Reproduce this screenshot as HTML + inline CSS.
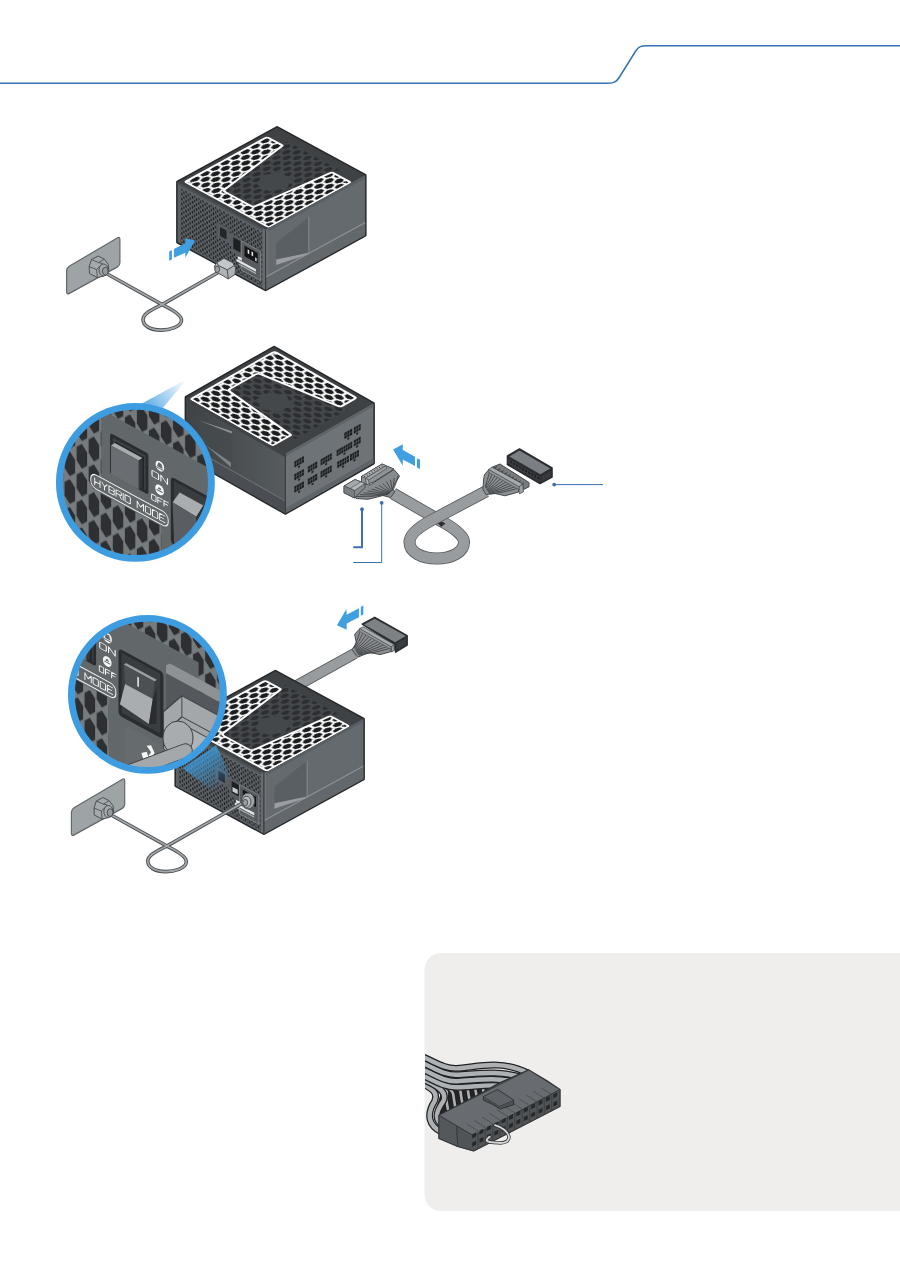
<!DOCTYPE html><html><head><meta charset="utf-8"><title>PSU installation</title><style>html,body{margin:0;padding:0;background:#fff}body{width:900px;height:1280px;position:relative;overflow:hidden;font-family:"Liberation Sans",sans-serif}</style></head><body><svg width="900" height="1280" viewBox="0 0 900 1280" style="position:absolute;left:0;top:0"><defs><pattern id="hexB" patternUnits="userSpaceOnUse" width="12.0" height="11.4" x="7" y="1.5"><path d="M-3.00 0.00 L-1.50 -4.30 L1.50 -4.30 L3.00 0.00 L1.50 4.30 L-1.50 4.30ZM9.00 0.00 L10.50 -4.30 L13.50 -4.30 L15.00 0.00 L13.50 4.30 L10.50 4.30ZM-3.00 11.40 L-1.50 7.10 L1.50 7.10 L3.00 11.40 L1.50 15.70 L-1.50 15.70ZM9.00 11.40 L10.50 7.10 L13.50 7.10 L15.00 11.40 L13.50 15.70 L10.50 15.70ZM3.00 5.70 L4.50 1.40 L7.50 1.40 L9.00 5.70 L7.50 10.00 L4.50 10.00Z" fill="#1b1d1f"/></pattern><pattern id="hexD" patternUnits="userSpaceOnUse" width="12.0" height="11.4" x="7" y="1.5"><path d="M-2.70 0.00 L-1.35 -3.90 L1.35 -3.90 L2.70 0.00 L1.35 3.90 L-1.35 3.90ZM9.30 0.00 L10.65 -3.90 L13.35 -3.90 L14.70 0.00 L13.35 3.90 L10.65 3.90ZM-2.70 11.40 L-1.35 7.50 L1.35 7.50 L2.70 11.40 L1.35 15.30 L-1.35 15.30ZM9.30 11.40 L10.65 7.50 L13.35 7.50 L14.70 11.40 L13.35 15.30 L10.65 15.30ZM3.30 5.70 L4.65 1.80 L7.35 1.80 L8.70 5.70 L7.35 9.60 L4.65 9.60Z" fill="#2c2e31"/></pattern><pattern id="mesh" patternUnits="userSpaceOnUse" width="4.8" height="4.9"><rect width="4.8" height="4.9" fill="#63686c"/><path d="M0.00 -1.80 L0.82 -0.90 L0.82 0.90 L0.00 1.80 L-0.82 0.90 L-0.82 -0.90ZM4.80 -1.80 L5.62 -0.90 L5.62 0.90 L4.80 1.80 L3.98 0.90 L3.98 -0.90ZM0.00 3.10 L0.82 4.00 L0.82 5.80 L0.00 6.70 L-0.82 5.80 L-0.82 4.00ZM4.80 3.10 L5.62 4.00 L5.62 5.80 L4.80 6.70 L3.98 5.80 L3.98 4.00ZM2.40 0.65 L3.22 1.55 L3.22 3.35 L2.40 4.25 L1.58 3.35 L1.58 1.55Z" fill="#1b1d1f"/></pattern><linearGradient id="sideg" x1="0" y1="0" x2="1" y2="0"><stop offset="0" stop-color="#3f4346"/><stop offset="1" stop-color="#565b5f"/></linearGradient><clipPath id="boxclip"><rect x="425" y="953" width="475" height="259"/></clipPath><pattern id="bighex" patternUnits="userSpaceOnUse" width="27.4" height="27.8" x="-45.8" y="52.7"><rect width="27.4" height="27.8" fill="#767b7e"/><path d="M0.00 -12.30 L6.00 -6.60 L6.00 6.60 L0.00 12.30 L-6.00 6.60 L-6.00 -6.60ZM27.40 -12.30 L33.40 -6.60 L33.40 6.60 L27.40 12.30 L21.40 6.60 L21.40 -6.60ZM0.00 15.50 L6.00 21.20 L6.00 34.40 L0.00 40.10 L-6.00 34.40 L-6.00 21.20ZM27.40 15.50 L33.40 21.20 L33.40 34.40 L27.40 40.10 L21.40 34.40 L21.40 21.20ZM13.70 1.60 L19.70 7.30 L19.70 20.50 L13.70 26.20 L7.70 20.50 L7.70 7.30Z" fill="#2d2f32"/></pattern><linearGradient id="beam2" gradientUnits="userSpaceOnUse" x1="150" y1="405" x2="186" y2="380"><stop offset="0" stop-color="#3d9de0" stop-opacity=".75"/><stop offset="1" stop-color="#3d9de0" stop-opacity="0"/></linearGradient><clipPath id="c2"><circle cx="135.4" cy="482.4" r="74"/></clipPath><linearGradient id="beam3" gradientUnits="userSpaceOnUse" x1="202" y1="758" x2="222" y2="788"><stop offset="0" stop-color="#3d9de0" stop-opacity=".75"/><stop offset="1" stop-color="#3d9de0" stop-opacity="0"/></linearGradient><clipPath id="c3"><circle cx="147.4" cy="694.4" r="74"/></clipPath></defs><path d="M0 83.3 H607.5 C614.5 83.3 616.5 81.8 619.5 77 L636 50.5 C639 46.6 641 45.8 646.5 45.8 H900" fill="none" stroke="#3372b8" stroke-width="1.5"/>
<path d="M900 953 H441 a16.5 16.5 0 0 0 -16.5 16.5 V1194.5 a16.5 16.5 0 0 0 16.5 16.5 H900 Z" fill="#efeeed"/>
<path d="M288 690.5 L354.5 653.6" fill="none" stroke="#54585b" stroke-width="11.2" stroke-linejoin="round"/><path d="M288 690.5 L354.5 653.6" fill="none" stroke="#989c9f" stroke-width="9.6" stroke-linejoin="round"/>
<polygon points="177.6,182.1 277.1,127.6 365.1,175.3 365.1,235.3 265.6,289.8 177.6,242.1" fill="#26282a" stroke="#26282a" stroke-width="3" stroke-linejoin="round" /><g transform="matrix(0.8800 0.4770 0.8805 -0.4823 177.6 182.1)"><rect x="0" y="0" width="100" height="113" fill="#3e4245"/><path d="M22 98 L34.5 19.5 Q35 16.5 38 16.5 H66 Q69 16.5 69.5 19.5 L78 98 L80 104 H20Z" fill="#44484b"/><path d="M22 98 L34.5 19.5 Q35 16.5 38 16.5 H66 Q69 16.5 69.5 19.5 L78 98 L80 104 H20Z" fill="url(#hexD)"/><path d="M41 55 L48 42 H62 L69 55 L62 68 H48Z" fill="#44484b"/><path d="M6 4.5 H97 Q99 4.5 99 6.5 V95.5 Q99 97.5 97 97.5 H79.5 Q78 97.5 77.8 96 L69.5 19.5 Q69 16.5 66 16.5 H38 Q35 16.5 34.5 19.5 L22.2 96 Q22 97.5 20.5 97.5 H6 Q4 97.5 4 95.5 V6.5 Q4 4.5 6 4.5Z" fill="#fcfcfc"/><path d="M6 4.5 H97 Q99 4.5 99 6.5 V95.5 Q99 97.5 97 97.5 H79.5 Q78 97.5 77.8 96 L69.5 19.5 Q69 16.5 66 16.5 H38 Q35 16.5 34.5 19.5 L22.2 96 Q22 97.5 20.5 97.5 H6 Q4 97.5 4 95.5 V6.5 Q4 4.5 6 4.5Z" fill="url(#hexB)"/><path d="M6 4.5 H97 Q99 4.5 99 6.5 V95.5 Q99 97.5 97 97.5 H79.5 Q78 97.5 77.8 96 L69.5 19.5 Q69 16.5 66 16.5 H38 Q35 16.5 34.5 19.5 L22.2 96 Q22 97.5 20.5 97.5 H6 Q4 97.5 4 95.5 V6.5 Q4 4.5 6 4.5Z" fill="none" stroke="#fcfcfc" stroke-width="2.2"/><circle cx="7.5" cy="8" r="1" fill="#333"/><circle cx="95.5" cy="8" r="1" fill="#333"/><circle cx="7.5" cy="94" r="1" fill="#333"/><circle cx="95.5" cy="94" r="1" fill="#333"/></g><g transform="matrix(0.8800 0.4770 0.0000 1.0000 177.6 182.1)"><rect x="0" y="0" width="100" height="60" fill="#5b6064"/><rect x="3.2" y="4.5" width="93" height="54" fill="url(#mesh)"/><rect x="0" y="0" width="100" height="2.2" fill="#4b4f53"/><rect x="96.8" y="0" width="3.2" height="60" fill="#676c70"/><path d="M45 19 H58 V22.5 H73 V24 H95 V54 H72 V40.5 H61 V33.5 H45Z" fill="#585c60"/><rect x="72.3" y="24.3" width="22" height="29" fill="none" stroke="#8c9093" stroke-width=".7"/><rect x="76" y="27.5" width="15" height="10.5" fill="#141517"/><rect x="79.6" y="29.3" width="1.8" height="4" fill="#e8e9ea"/><rect x="84" y="29.3" width="1.8" height="4" fill="#e8e9ea"/><rect x="88.2" y="33.2" width="1.6" height="3.4" fill="#e8e9ea"/><rect x="63.3" y="25" width="8.2" height="11.5" fill="#1d1f21"/><rect x="48.2" y="22" width="7.4" height="8.8" fill="#232527"/><rect x="68.4" y="41.2" width="4.4" height="2.8" fill="#eeeff0"/><rect x="67" y="44.6" width="22" height="2.6" fill="#e3e5e6"/><rect x="70" y="48.3" width="19" height="1.3" fill="#aeb1b4"/></g><g transform="matrix(0.8805 -0.4823 0.0000 1.0000 265.6 229.8)"><rect x="0" y="0" width="113" height="60" fill="#656a6e"/><rect x="0" y="0" width="113" height="3" fill="#595e62"/><rect x="0" y="0" width="2.2" height="60" fill="#73787c"/><path d="M12 19 L49 11 V48 L12 41Z" fill="#5a5f63"/><path d="M12 41 L49 48 V46.6 L12 35.5Z" fill="#a1a5a8" opacity="0.9"/><path d="M48.6 11 h1 v37 h-1Z" fill="#8b8f93"/><rect x="0" y="46.6" width="113" height="1.5" fill="#8e9296"/><rect x="0" y="48.1" width="113" height="11.9" fill="#63686c"/></g><path d="M265.6 229.8 V289.8" stroke="#34373a" stroke-width="1.2"/>
<polygon points="175.9,725.8 275.4,671.3 363.4,719.0 363.4,779.0 263.9,833.5 175.9,785.8" fill="#26282a" stroke="#26282a" stroke-width="3" stroke-linejoin="round" /><g transform="matrix(0.8800 0.4770 0.8805 -0.4823 175.9 725.8)"><rect x="0" y="0" width="100" height="113" fill="#3e4245"/><path d="M22 98 L34.5 19.5 Q35 16.5 38 16.5 H66 Q69 16.5 69.5 19.5 L78 98 L80 104 H20Z" fill="#44484b"/><path d="M22 98 L34.5 19.5 Q35 16.5 38 16.5 H66 Q69 16.5 69.5 19.5 L78 98 L80 104 H20Z" fill="url(#hexD)"/><path d="M41 55 L48 42 H62 L69 55 L62 68 H48Z" fill="#44484b"/><path d="M6 4.5 H97 Q99 4.5 99 6.5 V95.5 Q99 97.5 97 97.5 H79.5 Q78 97.5 77.8 96 L69.5 19.5 Q69 16.5 66 16.5 H38 Q35 16.5 34.5 19.5 L22.2 96 Q22 97.5 20.5 97.5 H6 Q4 97.5 4 95.5 V6.5 Q4 4.5 6 4.5Z" fill="#fcfcfc"/><path d="M6 4.5 H97 Q99 4.5 99 6.5 V95.5 Q99 97.5 97 97.5 H79.5 Q78 97.5 77.8 96 L69.5 19.5 Q69 16.5 66 16.5 H38 Q35 16.5 34.5 19.5 L22.2 96 Q22 97.5 20.5 97.5 H6 Q4 97.5 4 95.5 V6.5 Q4 4.5 6 4.5Z" fill="url(#hexB)"/><path d="M6 4.5 H97 Q99 4.5 99 6.5 V95.5 Q99 97.5 97 97.5 H79.5 Q78 97.5 77.8 96 L69.5 19.5 Q69 16.5 66 16.5 H38 Q35 16.5 34.5 19.5 L22.2 96 Q22 97.5 20.5 97.5 H6 Q4 97.5 4 95.5 V6.5 Q4 4.5 6 4.5Z" fill="none" stroke="#fcfcfc" stroke-width="2.2"/><circle cx="7.5" cy="8" r="1" fill="#333"/><circle cx="95.5" cy="8" r="1" fill="#333"/><circle cx="7.5" cy="94" r="1" fill="#333"/><circle cx="95.5" cy="94" r="1" fill="#333"/></g><g transform="matrix(0.8800 0.4770 0.0000 1.0000 175.9 725.8)"><rect x="0" y="0" width="100" height="60" fill="#5b6064"/><rect x="3.2" y="4.5" width="93" height="54" fill="url(#mesh)"/><rect x="0" y="0" width="100" height="2.2" fill="#4b4f53"/><rect x="96.8" y="0" width="3.2" height="60" fill="#676c70"/><path d="M45 19 H58 V22.5 H73 V24 H95 V54 H72 V40.5 H61 V33.5 H45Z" fill="#585c60"/><rect x="72.3" y="24.3" width="22" height="29" fill="none" stroke="#8c9093" stroke-width=".7"/><rect x="76" y="27.5" width="15" height="10.5" fill="#141517"/><rect x="63.3" y="25" width="8.2" height="11.5" fill="#1d1f21"/><rect x="64.3" y="30.5" width="6" height="4.5" fill="#c9cccd"/><rect x="48.2" y="22" width="7.4" height="8.8" fill="#232527"/><rect x="68.4" y="41.2" width="4.4" height="2.8" fill="#eeeff0"/><rect x="67" y="44.6" width="22" height="2.6" fill="#e3e5e6"/><rect x="70" y="48.3" width="19" height="1.3" fill="#aeb1b4"/></g><g transform="matrix(0.8805 -0.4823 0.0000 1.0000 263.9 773.5)"><rect x="0" y="0" width="113" height="60" fill="#656a6e"/><rect x="0" y="0" width="113" height="3" fill="#595e62"/><rect x="0" y="0" width="2.2" height="60" fill="#73787c"/><path d="M12 19 L49 11 V48 L12 41Z" fill="#5a5f63"/><path d="M12 41 L49 48 V46.6 L12 35.5Z" fill="#a1a5a8" opacity="0.9"/><path d="M48.6 11 h1 v37 h-1Z" fill="#8b8f93"/><rect x="0" y="46.6" width="113" height="1.5" fill="#8e9296"/><rect x="0" y="48.1" width="113" height="11.9" fill="#63686c"/></g><path d="M263.9 773.5 V833.5" stroke="#34373a" stroke-width="1.2"/>
<polygon points="186.1,397.4 274.1,347.2 373.4,403.6 373.4,463.1 285.4,513.3 186.1,456.9" fill="#26282a" stroke="#26282a" stroke-width="3" stroke-linejoin="round" /><g transform="matrix(-0.8800 0.5020 0.8788 0.4991 274.1 347.2)"><rect x="0" y="0" width="100" height="113" fill="#3e4245"/><path d="M22 98 L34.5 19.5 Q35 16.5 38 16.5 H66 Q69 16.5 69.5 19.5 L78 98 L80 104 H20Z" fill="#44484b"/><path d="M22 98 L34.5 19.5 Q35 16.5 38 16.5 H66 Q69 16.5 69.5 19.5 L78 98 L80 104 H20Z" fill="url(#hexD)"/><path d="M41 55 L48 42 H62 L69 55 L62 68 H48Z" fill="#44484b"/><path d="M6 4.5 H97 Q99 4.5 99 6.5 V95.5 Q99 97.5 97 97.5 H79.5 Q78 97.5 77.8 96 L69.5 19.5 Q69 16.5 66 16.5 H38 Q35 16.5 34.5 19.5 L22.2 96 Q22 97.5 20.5 97.5 H6 Q4 97.5 4 95.5 V6.5 Q4 4.5 6 4.5Z" fill="#fcfcfc"/><path d="M6 4.5 H97 Q99 4.5 99 6.5 V95.5 Q99 97.5 97 97.5 H79.5 Q78 97.5 77.8 96 L69.5 19.5 Q69 16.5 66 16.5 H38 Q35 16.5 34.5 19.5 L22.2 96 Q22 97.5 20.5 97.5 H6 Q4 97.5 4 95.5 V6.5 Q4 4.5 6 4.5Z" fill="url(#hexB)"/><path d="M6 4.5 H97 Q99 4.5 99 6.5 V95.5 Q99 97.5 97 97.5 H79.5 Q78 97.5 77.8 96 L69.5 19.5 Q69 16.5 66 16.5 H38 Q35 16.5 34.5 19.5 L22.2 96 Q22 97.5 20.5 97.5 H6 Q4 97.5 4 95.5 V6.5 Q4 4.5 6 4.5Z" fill="none" stroke="#fcfcfc" stroke-width="2.2"/><circle cx="7.5" cy="8" r="1" fill="#333"/><circle cx="95.5" cy="8" r="1" fill="#333"/><circle cx="7.5" cy="94" r="1" fill="#333"/><circle cx="95.5" cy="94" r="1" fill="#333"/></g><g transform="matrix(0.8788 0.4991 0.0000 0.9917 186.1 397.4)"><rect x="0" y="0" width="113" height="60" fill="url(#sideg)"/><rect x="0" y="0" width="113" height="3.5" fill="#3f4346"/><path d="M14 16 L52 8 V45 L14 38Z" fill="#454a4d" opacity=".55"/><path d="M14 16 L52 8 L52 10.2 Z" fill="#8e9396"/><path d="M22 37 L51 40 L51 44.8 Z" fill="#83888b" opacity=".9"/><rect x="0" y="47" width="113" height="1.4" fill="#6d7275"/><rect x="0" y="48.4" width="113" height="11.6" fill="#4a4e52"/></g><g transform="matrix(0.8800 -0.5020 0.0000 0.9917 285.4 453.8)"><rect x="0" y="0" width="100" height="60" fill="#6e7377"/><rect x="0" y="0" width="100" height="3" fill="#5f6468"/><rect x="0" y="55" width="100" height="5" fill="#5f6468"/><rect x="10.2" y="12.9" width="10.8" height="6.2" fill="#1b1c1e"/><rect x="14.5" y="20.0" width="2.2" height="1.8" fill="#1b1c1e"/><rect x="12.55" y="12.9" width=".7" height="6.2" fill="#6e7377" opacity=".75"/><rect x="15.25" y="12.9" width=".7" height="6.2" fill="#6e7377" opacity=".75"/><rect x="17.95" y="12.9" width=".7" height="6.2" fill="#6e7377" opacity=".75"/><rect x="10.2" y="15.6" width="10.8" height=".8" fill="#6e7377" opacity=".55"/><rect x="10.2" y="25.9" width="10.8" height="6.2" fill="#1b1c1e"/><rect x="14.5" y="33.0" width="2.2" height="1.8" fill="#1b1c1e"/><rect x="12.55" y="25.9" width=".7" height="6.2" fill="#6e7377" opacity=".75"/><rect x="15.25" y="25.9" width=".7" height="6.2" fill="#6e7377" opacity=".75"/><rect x="17.95" y="25.9" width=".7" height="6.2" fill="#6e7377" opacity=".75"/><rect x="10.2" y="28.6" width="10.8" height=".8" fill="#6e7377" opacity=".55"/><rect x="10.2" y="38.2" width="10.8" height="6.2" fill="#1b1c1e"/><rect x="14.5" y="45.3" width="2.2" height="1.8" fill="#1b1c1e"/><rect x="12.55" y="38.2" width=".7" height="6.2" fill="#6e7377" opacity=".75"/><rect x="15.25" y="38.2" width=".7" height="6.2" fill="#6e7377" opacity=".75"/><rect x="17.95" y="38.2" width=".7" height="6.2" fill="#6e7377" opacity=".75"/><rect x="10.2" y="40.9" width="10.8" height=".8" fill="#6e7377" opacity=".55"/><rect x="25.5" y="25.9" width="10.6" height="6.2" fill="#1b1c1e"/><rect x="29.7" y="33.0" width="2.2" height="1.8" fill="#1b1c1e"/><rect x="27.80" y="25.9" width=".7" height="6.2" fill="#6e7377" opacity=".75"/><rect x="30.45" y="25.9" width=".7" height="6.2" fill="#6e7377" opacity=".75"/><rect x="33.10" y="25.9" width=".7" height="6.2" fill="#6e7377" opacity=".75"/><rect x="25.5" y="28.6" width="10.6" height=".8" fill="#6e7377" opacity=".55"/><rect x="25.5" y="38.2" width="10.6" height="6.2" fill="#1b1c1e"/><rect x="29.7" y="45.3" width="2.2" height="1.8" fill="#1b1c1e"/><rect x="27.80" y="38.2" width=".7" height="6.2" fill="#6e7377" opacity=".75"/><rect x="30.45" y="38.2" width=".7" height="6.2" fill="#6e7377" opacity=".75"/><rect x="33.10" y="38.2" width=".7" height="6.2" fill="#6e7377" opacity=".75"/><rect x="25.5" y="40.9" width="10.6" height=".8" fill="#6e7377" opacity=".55"/><rect x="40" y="25.9" width="12.6" height="6.2" fill="#1b1c1e"/><rect x="45.2" y="33.0" width="2.2" height="1.8" fill="#1b1c1e"/><rect x="42.17" y="25.9" width=".7" height="6.2" fill="#6e7377" opacity=".75"/><rect x="44.69" y="25.9" width=".7" height="6.2" fill="#6e7377" opacity=".75"/><rect x="47.21" y="25.9" width=".7" height="6.2" fill="#6e7377" opacity=".75"/><rect x="49.73" y="25.9" width=".7" height="6.2" fill="#6e7377" opacity=".75"/><rect x="40" y="28.6" width="12.6" height=".8" fill="#6e7377" opacity=".55"/><rect x="40" y="38.2" width="12.6" height="6.2" fill="#1b1c1e"/><rect x="45.2" y="45.3" width="2.2" height="1.8" fill="#1b1c1e"/><rect x="42.17" y="38.2" width=".7" height="6.2" fill="#6e7377" opacity=".75"/><rect x="44.69" y="38.2" width=".7" height="6.2" fill="#6e7377" opacity=".75"/><rect x="47.21" y="38.2" width=".7" height="6.2" fill="#6e7377" opacity=".75"/><rect x="49.73" y="38.2" width=".7" height="6.2" fill="#6e7377" opacity=".75"/><rect x="40" y="40.9" width="12.6" height=".8" fill="#6e7377" opacity=".55"/><rect x="67" y="12.9" width="8.9" height="6.2" fill="#1b1c1e"/><rect x="70.4" y="20.0" width="2.2" height="1.8" fill="#1b1c1e"/><rect x="69.62" y="12.9" width=".7" height="6.2" fill="#6e7377" opacity=".75"/><rect x="72.58" y="12.9" width=".7" height="6.2" fill="#6e7377" opacity=".75"/><rect x="67" y="15.6" width="8.9" height=".8" fill="#6e7377" opacity=".55"/><rect x="77.8" y="12.9" width="7.7" height="6.2" fill="#1b1c1e"/><rect x="80.5" y="20.0" width="2.2" height="1.8" fill="#1b1c1e"/><rect x="80.02" y="12.9" width=".7" height="6.2" fill="#6e7377" opacity=".75"/><rect x="82.58" y="12.9" width=".7" height="6.2" fill="#6e7377" opacity=".75"/><rect x="77.8" y="15.6" width="7.7" height=".8" fill="#6e7377" opacity=".55"/><rect x="58.3" y="25.9" width="17.6" height="6.2" fill="#1b1c1e"/><rect x="66.0" y="33.0" width="2.2" height="1.8" fill="#1b1c1e"/><rect x="60.46" y="25.9" width=".7" height="6.2" fill="#6e7377" opacity=".75"/><rect x="62.98" y="25.9" width=".7" height="6.2" fill="#6e7377" opacity=".75"/><rect x="65.49" y="25.9" width=".7" height="6.2" fill="#6e7377" opacity=".75"/><rect x="68.01" y="25.9" width=".7" height="6.2" fill="#6e7377" opacity=".75"/><rect x="70.52" y="25.9" width=".7" height="6.2" fill="#6e7377" opacity=".75"/><rect x="73.04" y="25.9" width=".7" height="6.2" fill="#6e7377" opacity=".75"/><rect x="58.3" y="28.6" width="17.6" height=".8" fill="#6e7377" opacity=".55"/><rect x="77.8" y="25.9" width="7.7" height="6.2" fill="#1b1c1e"/><rect x="80.5" y="33.0" width="2.2" height="1.8" fill="#1b1c1e"/><rect x="80.02" y="25.9" width=".7" height="6.2" fill="#6e7377" opacity=".75"/><rect x="82.58" y="25.9" width=".7" height="6.2" fill="#6e7377" opacity=".75"/><rect x="77.8" y="28.6" width="7.7" height=".8" fill="#6e7377" opacity=".55"/><rect x="58.9" y="38.2" width="13.3" height="6.2" fill="#1b1c1e"/><rect x="64.5" y="45.3" width="2.2" height="1.8" fill="#1b1c1e"/><rect x="61.21" y="38.2" width=".7" height="6.2" fill="#6e7377" opacity=".75"/><rect x="63.87" y="38.2" width=".7" height="6.2" fill="#6e7377" opacity=".75"/><rect x="66.53" y="38.2" width=".7" height="6.2" fill="#6e7377" opacity=".75"/><rect x="69.19" y="38.2" width=".7" height="6.2" fill="#6e7377" opacity=".75"/><rect x="58.9" y="40.9" width="13.3" height=".8" fill="#6e7377" opacity=".55"/><rect x="73.4" y="38.2" width="10.1" height="6.2" fill="#1b1c1e"/><rect x="77.4" y="45.3" width="2.2" height="1.8" fill="#1b1c1e"/><rect x="75.58" y="38.2" width=".7" height="6.2" fill="#6e7377" opacity=".75"/><rect x="78.10" y="38.2" width=".7" height="6.2" fill="#6e7377" opacity=".75"/><rect x="80.63" y="38.2" width=".7" height="6.2" fill="#6e7377" opacity=".75"/><rect x="73.4" y="40.9" width="10.1" height=".8" fill="#6e7377" opacity=".55"/></g><path d="M285.4 453.8 V513.3" stroke="#3a3d40" stroke-width="1.2"/>
<g transform="translate(0 0)"><path d="M66.6 270.8 Q66.6 267.8 69.2 266.2 L117.3 238 Q119.9 236.4 119.9 239.6 L119.9 262.7 Q119.9 265.4 117.5 266.9 L69.4 293.4 Q66.6 295 66.6 291.8Z" fill="#9ea3a6" stroke="#62676a" stroke-width="1.2"/></g><path d="M105.5 273.0 L164.0 305.6 C176.0 311.6 182.0 316.6 181.5 320.6 C181.0 326.6 170.0 330.1 161.0 330.1 C150.0 330.1 143.0 325.6 143.0 319.6 C143.0 313.6 152.0 309.6 162.0 304.6 L219.0 272.0" fill="none" stroke="#4d5154" stroke-width="3.6" stroke-linecap="round" stroke-linejoin="round"/><path d="M105.5 273.0 L164.0 305.6 C176.0 311.6 182.0 316.6 181.5 320.6 C181.0 326.6 170.0 330.1 161.0 330.1 C150.0 330.1 143.0 325.6 143.0 319.6 C143.0 313.6 152.0 309.6 162.0 304.6 L219.0 272.0" fill="none" stroke="#a3a7aa" stroke-width="1.7" stroke-linecap="round" stroke-linejoin="round"/><g transform="translate(0 0)" stroke="#4d5154" stroke-width="1" stroke-linejoin="round"><path d="M89.2 266.5 L91.5 259.5 L98.1 256 L104.3 259.2 L108.2 264.2 L108.8 271.5 L103.5 276.2 L97.3 277.6 L89.5 273.5Z" fill="#a4a9ac"/><path d="M89.2 266.5 L96.6 269.6 L97.3 277.6 M96.6 269.6 L102.5 263.5 M91.5 259.5 L98.5 262.6 L104.3 259.2 M98.5 262.6 L102.5 263.5" fill="none" stroke-width=".9"/><ellipse cx="103.6" cy="270" rx="4.6" ry="6" fill="#a4a9ac"/><ellipse cx="105.3" cy="271.1" rx="2.9" ry="3.9" fill="#969a9d"/></g>
<g stroke="#4d5154" stroke-width="1" stroke-linejoin="round"><path d="M214.4 266.1 L216.7 262.8 L223.9 258.3 L232.8 262.8 L235.6 267.8 L235 274.4 L228.3 278.9 L221.7 275 L216.1 272.2Z" fill="#b0b3b6"/><path d="M216.7 262.8 L223.9 258.3 L232.8 262.8 L234.3 265.5 L227.3 269.8 L218.5 265.5Z" fill="#c4c7c9"/><path d="M227.3 269.8 L228.3 278.9 M218.5 265.5 L216.1 272.2" fill="none"/><ellipse cx="217.2" cy="269.3" rx="2.4" ry="3.2" fill="#9da1a4"/></g>
<g transform="translate(4.8 541.5)"><path d="M66.6 270.8 Q66.6 267.8 69.2 266.2 L117.3 238 Q119.9 236.4 119.9 239.6 L119.9 262.7 Q119.9 265.4 117.5 266.9 L69.4 293.4 Q66.6 295 66.6 291.8Z" fill="#9ea3a6" stroke="#62676a" stroke-width="1.2"/></g><path d="M110.3 814.5 L168.8 847.1 C180.8 853.1 186.8 858.1 186.3 862.1 C185.8 868.1 174.8 871.6 165.8 871.6 C154.8 871.6 147.8 867.1 147.8 861.1 C147.8 855.1 156.8 851.1 166.8 846.1 L243.5 802.5" fill="none" stroke="#4d5154" stroke-width="3.6" stroke-linecap="round" stroke-linejoin="round"/><path d="M110.3 814.5 L168.8 847.1 C180.8 853.1 186.8 858.1 186.3 862.1 C185.8 868.1 174.8 871.6 165.8 871.6 C154.8 871.6 147.8 867.1 147.8 861.1 C147.8 855.1 156.8 851.1 166.8 846.1 L243.5 802.5" fill="none" stroke="#a3a7aa" stroke-width="1.7" stroke-linecap="round" stroke-linejoin="round"/><g transform="translate(4.8 541.5)" stroke="#4d5154" stroke-width="1" stroke-linejoin="round"><path d="M89.2 266.5 L91.5 259.5 L98.1 256 L104.3 259.2 L108.2 264.2 L108.8 271.5 L103.5 276.2 L97.3 277.6 L89.5 273.5Z" fill="#a4a9ac"/><path d="M89.2 266.5 L96.6 269.6 L97.3 277.6 M96.6 269.6 L102.5 263.5 M91.5 259.5 L98.5 262.6 L104.3 259.2 M98.5 262.6 L102.5 263.5" fill="none" stroke-width=".9"/><ellipse cx="103.6" cy="270" rx="4.6" ry="6" fill="#a4a9ac"/><ellipse cx="105.3" cy="271.1" rx="2.9" ry="3.9" fill="#969a9d"/></g>
<g stroke="#4d5154" stroke-width="1"><ellipse cx="248" cy="801" rx="6.6" ry="8" fill="#a4a8ab"/><ellipse cx="246.6" cy="801.8" rx="4.4" ry="5.6" fill="#b6b9bc"/><ellipse cx="245.2" cy="802.6" rx="2.4" ry="3.2" fill="#9a9ea1"/></g>
<polygon points="169.2,251.4 171.9,250.0 171.9,259.4 169.2,260.8" fill="#3f9fe0" stroke="none" stroke-width="1" stroke-linejoin="round" /><polygon points="173.9,248.9 185.3,243.3 185.3,238.3 195.0,240.6 185.3,257.8 185.3,252.8 173.9,257.8" fill="#3f9fe0" stroke="none" stroke-width="1" stroke-linejoin="round" />
<polygon points="416.9,458.3 420.0,459.7 420.0,468.9 416.9,467.5" fill="#3f9fe0" stroke="none" stroke-width="1" stroke-linejoin="round" /><polygon points="393.1,449.4 402.8,444.2 402.8,450.0 415.0,456.7 415.0,466.1 402.8,459.4 402.8,465.8" fill="#3f9fe0" stroke="none" stroke-width="1" stroke-linejoin="round" />
<polygon points="360.8,606.7 363.3,605.6 363.3,614.4 360.8,615.8" fill="#3f9fe0" stroke="none" stroke-width="1" stroke-linejoin="round" /><polygon points="336.9,625.3 346.4,608.9 346.7,614.7 358.9,608.3 358.9,617.2 346.7,623.6 346.7,629.7" fill="#3f9fe0" stroke="none" stroke-width="1" stroke-linejoin="round" />
<path d="M362 509.2 V547.2 H353.3" fill="none" stroke="#3a6fb3" stroke-width="2"/><circle cx="362" cy="509.2" r="1.9" fill="#3a6fb3"/>
<path d="M381.7 502.8 V562.5 H353.3" fill="none" stroke="#3a6fb3" stroke-width="1"/><circle cx="381.7" cy="502.8" r="1.9" fill="#3a6fb3"/>
<path d="M554.2 484.6 H603" fill="none" stroke="#3a6fb3" stroke-width="1"/><circle cx="554.2" cy="484.6" r="1.9" fill="#3a6fb3"/>
<path d="M393 493.5 L440 520.5 C456 529 464 536 464 542 C464 552 452 558.5 437 558.5 C421 558.5 409.5 552 409.5 542" fill="none" stroke="#54585b" stroke-width="12.1" stroke-linejoin="round"/><path d="M393 493.5 L440 520.5 C456 529 464 536 464 542 C464 552 452 558.5 437 558.5 C421 558.5 409.5 552 409.5 542" fill="none" stroke="#989c9f" stroke-width="10.5" stroke-linejoin="round"/>
<path d="M433 516.5 L445.5 523.5 L441 527 L436.5 521.5Z" fill="#2c2e30"/>
<path d="M409.5 542 C409.5 535 417 528 432 520 L486 491.3" fill="none" stroke="#54585b" stroke-width="12.1" stroke-linejoin="round"/><path d="M409.5 542 C409.5 535 417 528 432 520 L486 491.3" fill="none" stroke="#989c9f" stroke-width="10.5" stroke-linejoin="round"/>
<g stroke-linejoin="round"><polygon points="354.0,494.0 356.0,498.5 368.0,499.3 383.0,495.5 390.5,497.5 395.0,491.5 392.0,489.0 399.5,476.0 394.0,469.5 370.0,485.0 365.0,483.5" fill="#878b8e" stroke="#45494c" stroke-width="1" stroke-linejoin="round" /><path d="M356.0 496.5 Q372.0 497.0 388.0 494.5" fill="none" stroke="#3f4245" stroke-width="0.85"/><path d="M359.8 494.6 Q374.2 495.8 388.5 494.0" fill="none" stroke="#3f4245" stroke-width="0.85"/><path d="M363.6 492.8 Q376.3 494.7 389.0 493.6" fill="none" stroke="#3f4245" stroke-width="0.85"/><path d="M367.5 490.9 Q378.5 493.5 389.5 493.1" fill="none" stroke="#3f4245" stroke-width="0.85"/><path d="M371.3 489.0 Q380.6 492.4 390.0 492.7" fill="none" stroke="#3f4245" stroke-width="0.85"/><path d="M375.1 487.2 Q382.8 491.2 390.5 492.2" fill="none" stroke="#3f4245" stroke-width="0.85"/><path d="M378.9 485.3 Q385.0 490.0 391.0 491.8" fill="none" stroke="#3f4245" stroke-width="0.85"/><path d="M382.7 483.5 Q387.1 488.9 391.5 491.3" fill="none" stroke="#3f4245" stroke-width="0.85"/><path d="M386.5 481.6 Q389.3 487.7 392.0 490.9" fill="none" stroke="#3f4245" stroke-width="0.85"/><path d="M390.4 479.7 Q391.4 486.6 392.5 490.4" fill="none" stroke="#3f4245" stroke-width="0.85"/><path d="M394.2 477.9 Q393.6 485.4 393.0 490.0" fill="none" stroke="#3f4245" stroke-width="0.85"/><path d="M398.0 476.0 Q395.8 484.2 393.5 489.5" fill="none" stroke="#3f4245" stroke-width="0.85"/><polygon points="361.5,476.5 382.0,464.0 394.0,469.0 373.5,482.0 366.5,484.5 361.5,482.0" fill="#8f9396" stroke="#45494c" stroke-width="1" stroke-linejoin="round" /><polygon points="361.5,476.5 382.0,464.0 386.0,465.6 365.5,478.3" fill="#a9adb0" stroke="#45494c" stroke-width="0.7" stroke-linejoin="round" /><polygon points="365.5,478.3 386.0,465.6 386.6,468.6 366.5,481.5" fill="#9da1a4" stroke="#45494c" stroke-width="0.7" stroke-linejoin="round" /><polygon points="365.5,478.3 368.5,479.8 369.3,485.2 366.3,484.0" fill="#a9adb0" stroke="#45494c" stroke-width="0.7" stroke-linejoin="round" /><path d="M364.0 476.3 l1.2 .6" stroke="#3d4043" stroke-width="1"/><path d="M366.5 474.8 l1.2 .6" stroke="#3d4043" stroke-width="1"/><path d="M369.0 473.3 l1.2 .6" stroke="#3d4043" stroke-width="1"/><path d="M371.5 471.7 l1.2 .6" stroke="#3d4043" stroke-width="1"/><path d="M374.0 470.2 l1.2 .6" stroke="#3d4043" stroke-width="1"/><path d="M376.5 468.7 l1.2 .6" stroke="#3d4043" stroke-width="1"/><path d="M379.0 467.2 l1.2 .6" stroke="#3d4043" stroke-width="1"/><path d="M381.5 465.7 l1.2 .6" stroke="#3d4043" stroke-width="1"/><polygon points="344.0,486.0 355.0,479.5 365.0,483.5 365.0,487.5 354.5,498.0 344.0,492.8" fill="#85898c" stroke="#45494c" stroke-width="1" stroke-linejoin="round" /><polygon points="344.0,486.0 355.0,479.5 365.0,483.5 354.5,490.5" fill="#a4a8ab" stroke="#45494c" stroke-width="0.7" stroke-linejoin="round" /><polygon points="344.0,486.0 354.5,490.5 354.5,498.0 344.0,492.8" fill="#7a7e81" stroke="#45494c" stroke-width="0.7" stroke-linejoin="round" /><polygon points="350.5,488.2 361.0,481.8 365.0,483.5 354.5,490.5" fill="#b4b7b9" stroke="#45494c" stroke-width="0.6" stroke-linejoin="round" /></g>
<g stroke-linejoin="round"><polygon points="488.5,470.0 519.0,487.0 518.5,492.0 505.0,495.8 495.0,493.5 486.0,494.5 483.0,489.5 483.5,480.0 484.5,474.5" fill="#8b8f92" stroke="#45494c" stroke-width="1" stroke-linejoin="round" /><path d="M489.5 472.0 Q487.2 481.0 485.0 487.0" fill="none" stroke="#3f4245" stroke-width="0.85"/><path d="M492.3 473.6 Q488.9 482.2 485.4 487.7" fill="none" stroke="#3f4245" stroke-width="0.85"/><path d="M495.1 475.3 Q490.5 483.4 485.9 488.4" fill="none" stroke="#3f4245" stroke-width="0.85"/><path d="M497.9 476.9 Q492.1 484.5 486.4 489.1" fill="none" stroke="#3f4245" stroke-width="0.85"/><path d="M500.7 478.6 Q493.8 485.7 486.8 489.8" fill="none" stroke="#3f4245" stroke-width="0.85"/><path d="M503.5 480.2 Q495.4 486.9 487.2 490.5" fill="none" stroke="#3f4245" stroke-width="0.85"/><path d="M506.3 481.9 Q497.0 488.0 487.7 491.2" fill="none" stroke="#3f4245" stroke-width="0.85"/><path d="M509.1 483.6 Q498.6 489.2 488.1 491.9" fill="none" stroke="#3f4245" stroke-width="0.85"/><path d="M511.9 485.2 Q500.2 490.4 488.6 492.6" fill="none" stroke="#3f4245" stroke-width="0.85"/><path d="M514.7 486.9 Q501.9 491.6 489.1 493.3" fill="none" stroke="#3f4245" stroke-width="0.85"/><path d="M517.5 488.5 Q503.5 492.8 489.5 494.0" fill="none" stroke="#3f4245" stroke-width="0.85"/><polygon points="492.5,467.0 500.0,464.0 529.0,482.5 529.0,486.8 523.5,489.5 522.8,484.0" fill="#777b7e" stroke="#45494c" stroke-width="1" stroke-linejoin="round" /><path d="M497.0 466.5 l-3.2 1.9" stroke="#3d4043" stroke-width="1"/><path d="M500.4 468.6 l-3.2 1.9" stroke="#3d4043" stroke-width="1"/><path d="M503.7 470.6 l-3.2 1.9" stroke="#3d4043" stroke-width="1"/><path d="M507.1 472.6 l-3.2 1.9" stroke="#3d4043" stroke-width="1"/><path d="M510.4 474.7 l-3.2 1.9" stroke="#3d4043" stroke-width="1"/><path d="M513.8 476.8 l-3.2 1.9" stroke="#3d4043" stroke-width="1"/><path d="M517.1 478.8 l-3.2 1.9" stroke="#3d4043" stroke-width="1"/><path d="M520.5 480.9 l-3.2 1.9" stroke="#3d4043" stroke-width="1"/><path d="M523.8 482.9 l-3.2 1.9" stroke="#3d4043" stroke-width="1"/><polygon points="488.5,469.5 492.0,467.2 522.8,484.0 519.0,486.8" fill="#a6aaad" stroke="#45494c" stroke-width="0.8" stroke-linejoin="round" /><polygon points="519.0,486.8 522.8,484.0 523.5,491.8 519.3,493.8" fill="#9da1a4" stroke="#45494c" stroke-width="0.8" stroke-linejoin="round" /><polygon points="488.5,469.5 519.0,486.8 519.2,489.5 488.5,472.3" fill="#94989b" stroke="#45494c" stroke-width="0.6" stroke-linejoin="round" /></g>
<g stroke-linejoin="round"><polygon points="507.5,456.0 519.5,449.0 552.0,468.0 552.0,477.0 540.0,483.5 507.5,464.5" fill="#2b2d30" stroke="#2b2d30" stroke-width="1.6" stroke-linejoin="round" /><polygon points="509.3,456.6 519.5,450.6 550.3,468.6 540.3,474.3" fill="#7b7f83" stroke="none" stroke-width="1" stroke-linejoin="round" /><polygon points="508.0,458.5 540.0,477.0 540.0,482.2 508.0,463.6" fill="#3a3d40" stroke="none" stroke-width="1" stroke-linejoin="round" /><rect x="510.0" y="460.6" width="1.7" height="2.2" fill="#1c1d1f" transform="skewY(30)" transform-origin="510.0 460.6"/><rect x="513.0" y="462.4" width="1.7" height="2.2" fill="#1c1d1f" transform="skewY(30)" transform-origin="513.0 462.4"/><rect x="516.1" y="464.1" width="1.7" height="2.2" fill="#1c1d1f" transform="skewY(30)" transform-origin="516.1 464.1"/><rect x="519.1" y="465.9" width="1.7" height="2.2" fill="#1c1d1f" transform="skewY(30)" transform-origin="519.1 465.9"/><rect x="522.2" y="467.7" width="1.7" height="2.2" fill="#1c1d1f" transform="skewY(30)" transform-origin="522.2 467.7"/><rect x="525.2" y="469.5" width="1.7" height="2.2" fill="#1c1d1f" transform="skewY(30)" transform-origin="525.2 469.5"/><rect x="528.3" y="471.2" width="1.7" height="2.2" fill="#1c1d1f" transform="skewY(30)" transform-origin="528.3 471.2"/><rect x="531.4" y="473.0" width="1.7" height="2.2" fill="#1c1d1f" transform="skewY(30)" transform-origin="531.4 473.0"/><rect x="534.4" y="474.8" width="1.7" height="2.2" fill="#1c1d1f" transform="skewY(30)" transform-origin="534.4 474.8"/><rect x="537.5" y="476.5" width="1.7" height="2.2" fill="#1c1d1f" transform="skewY(30)" transform-origin="537.5 476.5"/><polygon points="541.3,476.6 551.0,471.0 551.0,476.3 541.3,482.0" fill="#37393c" stroke="none" stroke-width="1" stroke-linejoin="round" /></g>
<g stroke-linejoin="round"><polygon points="354.7,634.3 359.1,629.4 391.1,647.2 390.7,651.7 380.0,654.6 369.3,652.4 357.5,657.3 352.0,649.5 356.4,643.2" fill="#8b8f92" stroke="#45494c" stroke-width="1" stroke-linejoin="round" /><path d="M360.0 631.5 Q357.0 641.0 354.0 647.5" fill="none" stroke="#3f4245" stroke-width="0.85"/><path d="M362.9 633.2 Q358.7 642.2 354.4 648.2" fill="none" stroke="#3f4245" stroke-width="0.85"/><path d="M365.9 634.9 Q360.4 643.5 354.9 649.0" fill="none" stroke="#3f4245" stroke-width="0.85"/><path d="M368.9 636.6 Q362.1 644.7 355.4 649.8" fill="none" stroke="#3f4245" stroke-width="0.85"/><path d="M371.8 638.3 Q363.8 645.9 355.8 650.5" fill="none" stroke="#3f4245" stroke-width="0.85"/><path d="M374.8 640.0 Q365.5 647.1 356.2 651.2" fill="none" stroke="#3f4245" stroke-width="0.85"/><path d="M377.7 641.7 Q367.2 648.4 356.7 652.0" fill="none" stroke="#3f4245" stroke-width="0.85"/><path d="M380.6 643.4 Q368.9 649.6 357.1 652.8" fill="none" stroke="#3f4245" stroke-width="0.85"/><path d="M383.6 645.1 Q370.6 650.8 357.6 653.5" fill="none" stroke="#3f4245" stroke-width="0.85"/><path d="M386.6 646.8 Q372.3 652.0 358.1 654.2" fill="none" stroke="#3f4245" stroke-width="0.85"/><path d="M389.5 648.5 Q374.0 653.2 358.5 655.0" fill="none" stroke="#3f4245" stroke-width="0.85"/><polygon points="362.2,624.1 374.7,617.4 407.1,635.7 407.1,645.0 395.6,652.1 394.2,644.6" fill="#2b2d30" stroke="#2b2d30" stroke-width="1.6" stroke-linejoin="round" /><polygon points="364.0,624.6 374.7,618.8 405.8,636.1 395.1,642.3" fill="#7d8184" stroke="none" stroke-width="1" stroke-linejoin="round" /><polygon points="396.4,643.6 406.2,638.0 406.2,644.4 396.6,650.3" fill="#3a3d40" stroke="none" stroke-width="1" stroke-linejoin="round" /><polygon points="359.6,628.6 363.1,626.8 394.2,644.6 391.1,646.8" fill="#a9adb0" stroke="#45494c" stroke-width="0.8" stroke-linejoin="round" /><polygon points="391.1,646.8 394.2,644.6 394.2,650.3 391.6,652.1" fill="#9da1a4" stroke="#45494c" stroke-width="0.8" stroke-linejoin="round" /><polygon points="359.6,628.6 391.1,646.8 391.2,649.3 359.4,631.2" fill="#94989b" stroke="#45494c" stroke-width="0.6" stroke-linejoin="round" /></g>
<g clip-path="url(#boxclip)" stroke-linejoin="round" stroke-linecap="round"><polygon points="425.7,1075.3 455.9,1087.8 507.4,1085.5 490.6,1091.3 447.9,1112.1 439.0,1115.3 437.2,1104.7 441.7,1090.4" fill="#232527" stroke="none" stroke-width="1" stroke-linejoin="round" /><path d="M418.6 1076.6 C436.3 1083.3 450.6 1085.1 446.1 1097.6 C447.0 1104.7 447.9 1109.1 448.4 1111.8 " fill="none" stroke="#1f2123" stroke-width="5.1"/><path d="M418.6 1076.6 C436.3 1083.3 450.6 1085.1 446.1 1097.6 C447.0 1104.7 447.9 1109.1 448.4 1111.8 " fill="none" stroke="#aeb1b4" stroke-width="2.6"/><path d="M418.6 1076.6 C436.3 1083.3 450.6 1085.1 453.2 1094.0 C454.1 1101.1 455.0 1105.6 455.5 1108.2 " fill="none" stroke="#1f2123" stroke-width="5.1"/><path d="M418.6 1076.6 C436.3 1083.3 450.6 1085.1 453.2 1094.0 C454.1 1101.1 455.0 1105.6 455.5 1108.2 " fill="none" stroke="#aeb1b4" stroke-width="2.6"/><path d="M418.6 1076.6 C436.3 1083.3 450.6 1085.1 460.3 1090.4 C461.2 1097.6 462.1 1102.0 462.6 1104.7 " fill="none" stroke="#1f2123" stroke-width="5.1"/><path d="M418.6 1076.6 C436.3 1083.3 450.6 1085.1 460.3 1090.4 C461.2 1097.6 462.1 1102.0 462.6 1104.7 " fill="none" stroke="#aeb1b4" stroke-width="2.6"/><path d="M418.6 1076.6 C436.3 1083.3 450.6 1085.1 467.4 1086.9 C468.3 1094.0 469.2 1098.4 469.8 1101.1 " fill="none" stroke="#1f2123" stroke-width="5.1"/><path d="M418.6 1076.6 C436.3 1083.3 450.6 1085.1 467.4 1086.9 C468.3 1094.0 469.2 1098.4 469.8 1101.1 " fill="none" stroke="#aeb1b4" stroke-width="2.6"/><path d="M418.6 1076.6 C436.3 1083.3 450.6 1085.1 474.6 1083.3 C475.4 1090.4 476.3 1094.9 476.9 1097.6 " fill="none" stroke="#1f2123" stroke-width="5.1"/><path d="M418.6 1076.6 C436.3 1083.3 450.6 1085.1 474.6 1083.3 C475.4 1090.4 476.3 1094.9 476.9 1097.6 " fill="none" stroke="#aeb1b4" stroke-width="2.6"/><path d="M418.6 1076.6 C436.3 1083.3 450.6 1085.1 481.7 1079.8 C482.6 1086.9 483.4 1091.3 484.0 1094.0 " fill="none" stroke="#1f2123" stroke-width="5.1"/><path d="M418.6 1076.6 C436.3 1083.3 450.6 1085.1 481.7 1079.8 C482.6 1086.9 483.4 1091.3 484.0 1094.0 " fill="none" stroke="#aeb1b4" stroke-width="2.6"/><path d="M418.6 1076.6 C436.3 1083.3 450.6 1085.1 488.8 1077.1 C489.7 1084.2 490.6 1088.7 491.1 1091.3 " fill="none" stroke="#1f2123" stroke-width="5.1"/><path d="M418.6 1076.6 C436.3 1083.3 450.6 1085.1 488.8 1077.1 C489.7 1084.2 490.6 1088.7 491.1 1091.3 " fill="none" stroke="#aeb1b4" stroke-width="2.6"/><path d="M418.6 1081.9 C432.8 1088.7 438.1 1092.2 434.6 1101.1 C425.7 1115.3 429.2 1126.0 441.7 1132.2 " fill="none" stroke="#1f2123" stroke-width="6.9"/><path d="M418.6 1081.9 C432.8 1088.7 438.1 1092.2 434.6 1101.1 C425.7 1115.3 429.2 1126.0 441.7 1132.2 " fill="none" stroke="#aeb1b4" stroke-width="4.4"/><path d="M418.6 1077.6 C436.3 1085.1 447.9 1091.3 443.4 1101.1 C434.6 1113.6 434.6 1120.7 444.3 1126.0 " fill="none" stroke="#1f2123" stroke-width="6.9"/><path d="M418.6 1077.6 C436.3 1085.1 447.9 1091.3 443.4 1101.1 C434.6 1113.6 434.6 1120.7 444.3 1126.0 " fill="none" stroke="#aeb1b4" stroke-width="4.4"/><path d="M418.6 1073.7 C434.6 1080.7 443.4 1087.2 455.9 1087.2 C473.7 1087.2 491.4 1083.3 507.4 1086.5 " fill="none" stroke="#1f2123" stroke-width="6.9"/><path d="M418.6 1073.7 C434.6 1080.7 443.4 1087.2 455.9 1087.2 C473.7 1087.2 491.4 1083.3 507.4 1086.5 " fill="none" stroke="#aeb1b4" stroke-width="4.4"/><path d="M418.6 1067.5 C434.6 1074.4 443.4 1081.6 456.8 1081.2 C473.7 1080.7 493.2 1076.6 515.4 1081.9 " fill="none" stroke="#1f2123" stroke-width="6.9"/><path d="M418.6 1067.5 C434.6 1074.4 443.4 1081.6 456.8 1081.2 C473.7 1080.7 493.2 1076.6 515.4 1081.9 " fill="none" stroke="#aeb1b4" stroke-width="4.4"/><path d="M418.6 1061.3 C434.6 1067.7 443.4 1075.2 456.8 1074.8 C473.7 1074.4 496.8 1069.5 522.6 1077.6 " fill="none" stroke="#1f2123" stroke-width="6.9"/><path d="M418.6 1061.3 C434.6 1067.7 443.4 1075.2 456.8 1074.8 C473.7 1074.4 496.8 1069.5 522.6 1077.6 " fill="none" stroke="#aeb1b4" stroke-width="4.4"/><path d="M418.6 1055.1 C434.6 1061.3 443.4 1068.8 456.8 1068.4 C473.7 1068.0 500.3 1058.4 528.8 1073.6 " fill="none" stroke="#1f2123" stroke-width="6.9"/><path d="M418.6 1055.1 C434.6 1061.3 443.4 1068.8 456.8 1068.4 C473.7 1068.0 500.3 1058.4 528.8 1073.6 " fill="none" stroke="#aeb1b4" stroke-width="4.4"/></g>
<g stroke-linejoin="round"><polygon points="439.0,1115.3 483.4,1092.2 498.6,1083.3 528.8,1070.0 546.6,1080.7 559.9,1089.6 559.9,1106.4 473.7,1150.9 457.7,1146.4 439.0,1138.4" fill="#5c6064" stroke="#303235" stroke-width="1.4" stroke-linejoin="round" /><polygon points="439.0,1115.3 528.8,1070.0 559.9,1089.6 473.7,1135.8 456.8,1126.0" fill="#686c70" stroke="#303235" stroke-width="0.7" stroke-linejoin="round" /><polygon points="439.0,1115.3 456.8,1126.0 457.7,1146.4 439.0,1138.4" fill="#54585b" stroke="#303235" stroke-width="0.7" stroke-linejoin="round" /><polygon points="456.8,1126.0 473.7,1135.8 559.9,1089.6 559.9,1106.4 473.7,1150.9 457.7,1146.4" fill="#505457" stroke="#303235" stroke-width="0.7" stroke-linejoin="round" /><polygon points="553.3,1094.2 557.2,1092.2 557.2,1096.3 553.3,1098.3" fill="#26282a" stroke="none" stroke-width="1" stroke-linejoin="round" /><polygon points="553.3,1102.5 557.2,1100.6 557.2,1104.7 553.3,1106.6" fill="#26282a" stroke="none" stroke-width="1" stroke-linejoin="round" /><path d="M551.7 1094.5 L541.0 1087.8" stroke="#45494c" stroke-width=".8"/><path d="M551.7 1094.5 L551.7 1111.2" stroke="#3a3d40" stroke-width=".8"/><polygon points="545.9,1097.8 549.8,1095.9 549.8,1100.0 545.9,1101.9" fill="#26282a" stroke="none" stroke-width="1" stroke-linejoin="round" /><polygon points="545.9,1106.2 549.8,1104.2 549.8,1108.3 545.9,1110.3" fill="#26282a" stroke="none" stroke-width="1" stroke-linejoin="round" /><path d="M544.3 1098.2 L533.7 1091.4" stroke="#45494c" stroke-width=".8"/><path d="M544.3 1098.2 L544.3 1114.9" stroke="#3a3d40" stroke-width=".8"/><polygon points="538.6,1101.5 542.5,1099.5 542.5,1103.6 538.6,1105.6" fill="#26282a" stroke="none" stroke-width="1" stroke-linejoin="round" /><polygon points="538.6,1109.8 542.5,1107.9 542.5,1112.0 538.6,1113.9" fill="#26282a" stroke="none" stroke-width="1" stroke-linejoin="round" /><path d="M537.0 1101.8 L526.3 1095.1" stroke="#45494c" stroke-width=".8"/><path d="M537.0 1101.8 L537.0 1118.5" stroke="#3a3d40" stroke-width=".8"/><polygon points="531.2,1105.1 535.1,1103.2 535.1,1107.2 531.2,1109.2" fill="#26282a" stroke="none" stroke-width="1" stroke-linejoin="round" /><polygon points="531.2,1113.5 535.1,1111.5 535.1,1115.6 531.2,1117.6" fill="#26282a" stroke="none" stroke-width="1" stroke-linejoin="round" /><path d="M529.6 1105.5 L518.9 1098.7" stroke="#45494c" stroke-width=".8"/><path d="M529.6 1105.5 L529.6 1122.2" stroke="#3a3d40" stroke-width=".8"/><polygon points="523.8,1108.8 527.7,1106.8 527.7,1110.9 523.8,1112.8" fill="#26282a" stroke="none" stroke-width="1" stroke-linejoin="round" /><polygon points="523.8,1117.1 527.7,1115.2 527.7,1119.2 523.8,1121.2" fill="#26282a" stroke="none" stroke-width="1" stroke-linejoin="round" /><path d="M522.2 1109.1 L511.5 1102.4" stroke="#45494c" stroke-width=".8"/><path d="M522.2 1109.1 L522.2 1125.8" stroke="#3a3d40" stroke-width=".8"/><polygon points="516.4,1112.4 520.3,1110.4 520.3,1114.5 516.4,1116.5" fill="#26282a" stroke="none" stroke-width="1" stroke-linejoin="round" /><polygon points="516.4,1120.8 520.3,1118.8 520.3,1122.9 516.4,1124.8" fill="#26282a" stroke="none" stroke-width="1" stroke-linejoin="round" /><path d="M514.8 1112.8 L504.2 1106.0" stroke="#45494c" stroke-width=".8"/><path d="M514.8 1112.8 L514.8 1129.5" stroke="#3a3d40" stroke-width=".8"/><polygon points="509.0,1116.0 513.0,1114.1 513.0,1118.2 509.0,1120.1" fill="#26282a" stroke="none" stroke-width="1" stroke-linejoin="round" /><polygon points="509.0,1124.4 513.0,1122.4 513.0,1126.5 509.0,1128.5" fill="#26282a" stroke="none" stroke-width="1" stroke-linejoin="round" /><path d="M507.4 1116.4 L496.8 1109.6" stroke="#45494c" stroke-width=".8"/><path d="M507.4 1116.4 L507.4 1133.1" stroke="#3a3d40" stroke-width=".8"/><polygon points="501.7,1119.7 505.6,1117.7 505.6,1121.8 501.7,1123.8" fill="#26282a" stroke="none" stroke-width="1" stroke-linejoin="round" /><polygon points="501.7,1128.0 505.6,1126.1 505.6,1130.2 501.7,1132.1" fill="#26282a" stroke="none" stroke-width="1" stroke-linejoin="round" /><path d="M500.1 1120.0 L489.4 1113.3" stroke="#45494c" stroke-width=".8"/><path d="M500.1 1120.0 L500.1 1136.8" stroke="#3a3d40" stroke-width=".8"/><polygon points="494.3,1123.3 498.2,1121.4 498.2,1125.5 494.3,1127.4" fill="#26282a" stroke="none" stroke-width="1" stroke-linejoin="round" /><polygon points="494.3,1131.7 498.2,1129.7 498.2,1133.8 494.3,1135.8" fill="#26282a" stroke="none" stroke-width="1" stroke-linejoin="round" /><path d="M492.7 1123.7 L482.0 1116.9" stroke="#45494c" stroke-width=".8"/><path d="M492.7 1123.7 L492.7 1140.4" stroke="#3a3d40" stroke-width=".8"/><polygon points="486.9,1127.0 490.8,1125.0 490.8,1129.1 486.9,1131.1" fill="#26282a" stroke="none" stroke-width="1" stroke-linejoin="round" /><polygon points="486.9,1135.3 490.8,1133.4 490.8,1137.5 486.9,1139.4" fill="#26282a" stroke="none" stroke-width="1" stroke-linejoin="round" /><path d="M485.3 1127.3 L474.6 1120.6" stroke="#45494c" stroke-width=".8"/><path d="M485.3 1127.3 L485.3 1144.0" stroke="#3a3d40" stroke-width=".8"/><polygon points="479.5,1130.6 483.4,1128.7 483.4,1132.8 479.5,1134.7" fill="#26282a" stroke="none" stroke-width="1" stroke-linejoin="round" /><polygon points="479.5,1139.0 483.4,1137.0 483.4,1141.1 479.5,1143.1" fill="#26282a" stroke="none" stroke-width="1" stroke-linejoin="round" /><path d="M477.9 1131.0 L467.3 1124.2" stroke="#45494c" stroke-width=".8"/><path d="M477.9 1131.0 L477.9 1147.7" stroke="#3a3d40" stroke-width=".8"/><polygon points="472.2,1134.3 476.1,1132.3 476.1,1136.4 472.2,1138.4" fill="#26282a" stroke="none" stroke-width="1" stroke-linejoin="round" /><polygon points="472.2,1142.6 476.1,1140.7 476.1,1144.8 472.2,1146.7" fill="#26282a" stroke="none" stroke-width="1" stroke-linejoin="round" /><polygon points="483.4,1096.7 497.7,1089.6 513.7,1100.2 513.7,1104.7 500.3,1109.1 493.2,1104.7 483.4,1100.2" fill="#4d5154" stroke="#303235" stroke-width="1" stroke-linejoin="round" /><polygon points="483.4,1096.7 497.7,1089.6 513.7,1100.2 499.4,1106.4" fill="#5f6367" stroke="#303235" stroke-width="0.6" stroke-linejoin="round" /><path d="M495.0 1125.1 C511.0 1129.6 514.6 1143.8 498.6 1142.9 S486.1 1140.2 489.7 1136.7" fill="none" stroke="#2b2d2f" stroke-width="3.4" stroke-linecap="round"/><path d="M495.0 1125.1 C511.0 1129.6 514.6 1143.8 498.6 1142.9 S486.1 1140.2 489.7 1136.7" fill="none" stroke="#d5d7d9" stroke-width="1.9" stroke-linecap="round"/></g>
<path d="M141 404 L187 379 L162 409Z" fill="url(#beam2)"/>
<g clip-path="url(#c2)"><g transform="matrix(0.88 0.477 0 1 110.1 432.9)"><rect x="-200" y="-200" width="500" height="500" fill="url(#bighex)"/><path d="M-10 -18.5 H160 V40 H240 V200 H58 V65.5 H-10Z" fill="#62676a"/><rect x="0" y="0" width="43.5" height="41" rx="2.5" fill="#2a2c2f"/><rect x="3" y="3.2" width="37.5" height="35" rx="1" fill="#3c3f42"/><rect x="5.5" y="6" width="33" height="32" fill="#222426"/><path d="M1 12 L5.3 7.6 H36.8 L32.5 12Z" fill="#a9adb0"/><path d="M32.5 12 L36.8 7.6 V36.5 L32.5 41Z" fill="#33363a"/><rect x="1" y="12" width="31.5" height="29" fill="#6a6e72"/><circle cx="56.6" cy="6.2" r="4.9" fill="#f4f5f5"/><path d="M53.3 7.6 h6.6 l-1.6 -4.4 h-3.4Z" fill="#62676a"/><rect x="52.6" y="8.2" width="8" height="1.1" fill="#62676a"/><path transform="translate(47.60 14.60) scale(1.500 0.860)" d="M1 0 H4 Q5 0 5 1 V6 Q5 7 4 7 H1 Q0 7 0 6 V1 Q0 0 1 0Z" fill="none" stroke="#f4f5f5" stroke-width="0.85" stroke-linejoin="round" stroke-linecap="round"/><path transform="translate(57.70 14.60) scale(1.500 0.860)" d="M0 7 V0 L5 7 V0" fill="none" stroke="#f4f5f5" stroke-width="0.85" stroke-linejoin="round" stroke-linecap="round"/><circle cx="56.2" cy="30.1" r="4.9" fill="#f4f5f5"/><path d="M52.8 30.6 h6.8 v1.2 h-6.8Z M54.2 29.8 l1 -1.9 h2 l1 1.9Z" fill="#62676a"/><path transform="translate(47.20 38.40) scale(1.000 0.800)" d="M1 0 H4 Q5 0 5 1 V6 Q5 7 4 7 H1 Q0 7 0 6 V1 Q0 0 1 0Z" fill="none" stroke="#f4f5f5" stroke-width="1.11" stroke-linejoin="round" stroke-linecap="round"/><path transform="translate(54.20 38.40) scale(1.000 0.800)" d="M5 0 H0 V7 M0 3.5 H4" fill="none" stroke="#f4f5f5" stroke-width="1.11" stroke-linejoin="round" stroke-linecap="round"/><path transform="translate(61.20 38.40) scale(1.000 0.800)" d="M5 0 H0 V7 M0 3.5 H4" fill="none" stroke="#f4f5f5" stroke-width="1.11" stroke-linejoin="round" stroke-linecap="round"/><rect x="-22" y="49.8" width="88" height="14" rx="6" fill="#62676a" stroke="#f4f5f5" stroke-width="1.1"/><path transform="translate(-17.50 53.50) scale(1.200 0.950)" d="M0 0 V7 M5 0 V7 M0 3.5 H5" fill="none" stroke="#f4f5f5" stroke-width="0.93" stroke-linejoin="round" stroke-linecap="round"/><path transform="translate(-9.40 53.50) scale(1.200 0.950)" d="M0 0 L2.5 3.5 L5 0 M2.5 3.5 V7" fill="none" stroke="#f4f5f5" stroke-width="0.93" stroke-linejoin="round" stroke-linecap="round"/><path transform="translate(-1.30 53.50) scale(1.200 0.950)" d="M0 0 H4 Q5 0 5 1 V2.5 Q5 3.5 4 3.5 H0 M4 3.5 Q5 3.5 5 4.5 V6 Q5 7 4 7 H0 V0" fill="none" stroke="#f4f5f5" stroke-width="0.93" stroke-linejoin="round" stroke-linecap="round"/><path transform="translate(6.80 53.50) scale(1.200 0.950)" d="M0 7 V0 H4 Q5 0 5 1 V2.5 Q5 3.5 4 3.5 H0 M3 3.5 L5 7" fill="none" stroke="#f4f5f5" stroke-width="0.93" stroke-linejoin="round" stroke-linecap="round"/><path transform="translate(14.90 53.50) scale(1.200 0.950)" d="M0 0 V7" fill="none" stroke="#f4f5f5" stroke-width="0.93" stroke-linejoin="round" stroke-linecap="round"/><path transform="translate(17.00 53.50) scale(1.200 0.950)" d="M0 0 H4 Q5 0 5 1 V6 Q5 7 4 7 H0Z" fill="none" stroke="#f4f5f5" stroke-width="0.93" stroke-linejoin="round" stroke-linecap="round"/><path transform="translate(30.80 53.50) scale(1.200 0.950)" d="M0 7 V0 L3 4.5 L6 0 V7" fill="none" stroke="#f4f5f5" stroke-width="0.93" stroke-linejoin="round" stroke-linecap="round"/><path transform="translate(40.10 53.50) scale(1.200 0.950)" d="M1 0 H4 Q5 0 5 1 V6 Q5 7 4 7 H1 Q0 7 0 6 V1 Q0 0 1 0Z" fill="none" stroke="#f4f5f5" stroke-width="0.93" stroke-linejoin="round" stroke-linecap="round"/><path transform="translate(48.20 53.50) scale(1.200 0.950)" d="M0 0 H4 Q5 0 5 1 V6 Q5 7 4 7 H0Z" fill="none" stroke="#f4f5f5" stroke-width="0.93" stroke-linejoin="round" stroke-linecap="round"/><path transform="translate(56.30 53.50) scale(1.200 0.950)" d="M5 0 H0 V7 H5 M0 3.5 H4" fill="none" stroke="#f4f5f5" stroke-width="0.93" stroke-linejoin="round" stroke-linecap="round"/><rect x="69" y="10.5" width="51" height="67" rx="4" fill="#2a2c2f"/><rect x="72.5" y="13.5" width="44" height="60" rx="1.5" fill="#3a3d40"/><path d="M71 35.5 L79 22 H106 L98 37Z" fill="#a9adb0"/><path d="M71 35.5 L98 37 V80 H73Z" fill="#5a5e62"/><path d="M98 37 L106 22 L112 24 V80 H98Z" fill="#2e3033"/></g></g><circle cx="135.4" cy="482.4" r="76" fill="none" stroke="#3d9de0" stroke-width="6.9"/>
<path d="M183 768.5 L216 745 L231 778 L213 791Z" fill="url(#beam3)"/>
<g clip-path="url(#c3)"><g transform="matrix(0.88 0.477 0 1 57.8 604.6)"><rect x="-200" y="-200" width="500" height="500" fill="url(#bighex)"/><path d="M-10 -18.5 H160 V40 H240 V200 H58 V65.5 H-10Z" fill="#62676a"/><rect x="0" y="0" width="43.5" height="41" rx="2.5" fill="#2a2c2f"/><rect x="3" y="3.2" width="37.5" height="35" rx="1" fill="#3c3f42"/><rect x="5.5" y="6" width="33" height="32" fill="#222426"/><path d="M1 12 L5.3 7.6 H36.8 L32.5 12Z" fill="#a9adb0"/><path d="M32.5 12 L36.8 7.6 V36.5 L32.5 41Z" fill="#33363a"/><rect x="1" y="12" width="31.5" height="29" fill="#6a6e72"/><circle cx="56.6" cy="6.2" r="4.9" fill="#f4f5f5"/><path d="M53.3 7.6 h6.6 l-1.6 -4.4 h-3.4Z" fill="#62676a"/><rect x="52.6" y="8.2" width="8" height="1.1" fill="#62676a"/><path transform="translate(47.60 14.60) scale(1.500 0.860)" d="M1 0 H4 Q5 0 5 1 V6 Q5 7 4 7 H1 Q0 7 0 6 V1 Q0 0 1 0Z" fill="none" stroke="#f4f5f5" stroke-width="0.85" stroke-linejoin="round" stroke-linecap="round"/><path transform="translate(57.70 14.60) scale(1.500 0.860)" d="M0 7 V0 L5 7 V0" fill="none" stroke="#f4f5f5" stroke-width="0.85" stroke-linejoin="round" stroke-linecap="round"/><circle cx="56.2" cy="30.1" r="4.9" fill="#f4f5f5"/><path d="M52.8 30.6 h6.8 v1.2 h-6.8Z M54.2 29.8 l1 -1.9 h2 l1 1.9Z" fill="#62676a"/><path transform="translate(47.20 38.40) scale(1.000 0.800)" d="M1 0 H4 Q5 0 5 1 V6 Q5 7 4 7 H1 Q0 7 0 6 V1 Q0 0 1 0Z" fill="none" stroke="#f4f5f5" stroke-width="1.11" stroke-linejoin="round" stroke-linecap="round"/><path transform="translate(54.20 38.40) scale(1.000 0.800)" d="M5 0 H0 V7 M0 3.5 H4" fill="none" stroke="#f4f5f5" stroke-width="1.11" stroke-linejoin="round" stroke-linecap="round"/><path transform="translate(61.20 38.40) scale(1.000 0.800)" d="M5 0 H0 V7 M0 3.5 H4" fill="none" stroke="#f4f5f5" stroke-width="1.11" stroke-linejoin="round" stroke-linecap="round"/><rect x="-22" y="49.8" width="88" height="14" rx="6" fill="#62676a" stroke="#f4f5f5" stroke-width="1.1"/><path transform="translate(-17.50 53.50) scale(1.200 0.950)" d="M0 0 V7 M5 0 V7 M0 3.5 H5" fill="none" stroke="#f4f5f5" stroke-width="0.93" stroke-linejoin="round" stroke-linecap="round"/><path transform="translate(-9.40 53.50) scale(1.200 0.950)" d="M0 0 L2.5 3.5 L5 0 M2.5 3.5 V7" fill="none" stroke="#f4f5f5" stroke-width="0.93" stroke-linejoin="round" stroke-linecap="round"/><path transform="translate(-1.30 53.50) scale(1.200 0.950)" d="M0 0 H4 Q5 0 5 1 V2.5 Q5 3.5 4 3.5 H0 M4 3.5 Q5 3.5 5 4.5 V6 Q5 7 4 7 H0 V0" fill="none" stroke="#f4f5f5" stroke-width="0.93" stroke-linejoin="round" stroke-linecap="round"/><path transform="translate(6.80 53.50) scale(1.200 0.950)" d="M0 7 V0 H4 Q5 0 5 1 V2.5 Q5 3.5 4 3.5 H0 M3 3.5 L5 7" fill="none" stroke="#f4f5f5" stroke-width="0.93" stroke-linejoin="round" stroke-linecap="round"/><path transform="translate(14.90 53.50) scale(1.200 0.950)" d="M0 0 V7" fill="none" stroke="#f4f5f5" stroke-width="0.93" stroke-linejoin="round" stroke-linecap="round"/><path transform="translate(17.00 53.50) scale(1.200 0.950)" d="M0 0 H4 Q5 0 5 1 V6 Q5 7 4 7 H0Z" fill="none" stroke="#f4f5f5" stroke-width="0.93" stroke-linejoin="round" stroke-linecap="round"/><path transform="translate(30.80 53.50) scale(1.200 0.950)" d="M0 7 V0 L3 4.5 L6 0 V7" fill="none" stroke="#f4f5f5" stroke-width="0.93" stroke-linejoin="round" stroke-linecap="round"/><path transform="translate(40.10 53.50) scale(1.200 0.950)" d="M1 0 H4 Q5 0 5 1 V6 Q5 7 4 7 H1 Q0 7 0 6 V1 Q0 0 1 0Z" fill="none" stroke="#f4f5f5" stroke-width="0.93" stroke-linejoin="round" stroke-linecap="round"/><path transform="translate(48.20 53.50) scale(1.200 0.950)" d="M0 0 H4 Q5 0 5 1 V6 Q5 7 4 7 H0Z" fill="none" stroke="#f4f5f5" stroke-width="0.93" stroke-linejoin="round" stroke-linecap="round"/><path transform="translate(56.30 53.50) scale(1.200 0.950)" d="M5 0 H0 V7 H5 M0 3.5 H4" fill="none" stroke="#f4f5f5" stroke-width="0.93" stroke-linejoin="round" stroke-linecap="round"/><rect x="69" y="10.5" width="51" height="67" rx="4" fill="#2a2c2f"/><rect x="72.5" y="13.5" width="44" height="60" rx="1.5" fill="#3a3d40"/><path d="M75 24.5 L77.5 21.5 H112.5 L110 24.5Z" fill="#9a9ea1"/><path d="M75 24.5 H110 L108 43 H76.5Z" fill="#4c5054"/><rect x="90.4" y="29" width="1.7" height="9.5" fill="#f0f1f1"/><path d="M76.5 43 H108 L103.5 70 L70.5 66Z" fill="#a9adb0"/><path d="M108 43 L112.5 30 L112 66 L103.5 70Z" fill="#2a2c2f"/><path d="M123 2 L127.5 -2 H200 V10 H123Z" fill="#8e9295"/><path d="M123 10 H200 V60 H123Z" fill="#54585c"/><path d="M120 50 L141 24 H215 V120 H150 L120 86Z" fill="#a3a7aa" stroke="#3a3d40" stroke-width="1"/><path d="M141 24 L141 45 L120 72 M141 45 H215" fill="none" stroke="#3a3d40" stroke-width="1"/><path d="M146 52 H215 V110 H146Q128 82 146 52Z" fill="#b1b4b7" stroke="#3a3d40" stroke-width="1"/><rect x="76" y="84" width="44" height="60" rx="6" fill="#666b6e"/><path d="M101 93 l5 -3 l4 6 l-4 8 l-3 -2 l3 -5Z M95 103 l6 -4 l2 4 l-6 5Z" fill="#f4f5f5"/></g><ellipse cx="178" cy="738" rx="15" ry="17" fill="#a8acaf" stroke="#3a3d40" stroke-width="1"/><path d="M185.5 750.5 L128 772" stroke="#3a3d40" stroke-width="14.4" stroke-linecap="round"/><path d="M185.5 750.5 L128 772" stroke="#a4a8ab" stroke-width="12.6" stroke-linecap="round"/></g><circle cx="147.4" cy="694.4" r="76" fill="none" stroke="#3d9de0" stroke-width="6.9"/></svg></body></html>
